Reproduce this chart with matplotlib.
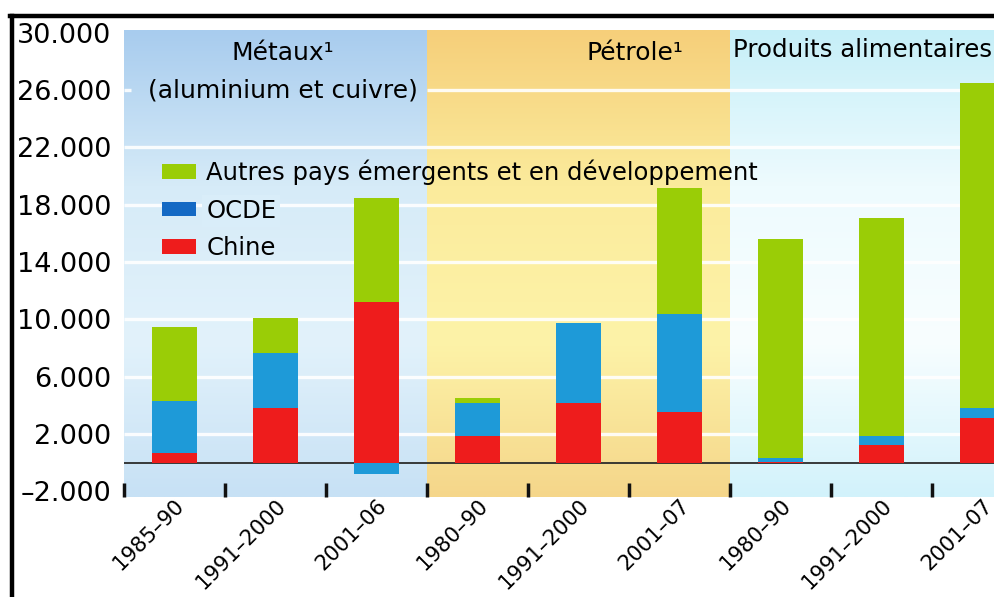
import numpy as np
import matplotlib
matplotlib.use("Agg")
import matplotlib.pyplot as plt
from matplotlib.colors import LinearSegmentedColormap
from matplotlib.lines import Line2D
from matplotlib.transforms import ScaledTranslation

# data
periods = ["1985–90", "1991–2000", "2001–06",
           "1980–90", "1991–2000", "2001–07",
           "1980–90", "1991–2000", "2001–07"]
chine = [700, 3840, 11230, 1880, 4180, 3560, 50, 1250, 3140]
ocde = [3620, 3830, -770, 2300, 5580, 6830, 300, 630, 700]
autres = [5160, 2440, 7250, 350, 0, 8790, 15270, 15200, 22660]
series_names = ["Chine", "OCDE", "Autres pays émergents et en développement"]
yticks = [-2000, 2000, 6000, 10000, 14000, 18000, 22000, 26000, 30000]
ytick_labels = ["–2.000", "2.000", "6.000", "10.000", "14.000",
                "18.000", "22.000", "26.000", "30.000"]

colors = ["#ee1c1c", "#1e9ad8", "#9acd06"]
legend_blue = "#1469c4"

fig = plt.figure(figsize=(9.95, 5.97), dpi=100)
ax = fig.add_axes([0.1246, 0.1675, 0.8754, 0.7822])

ymin, ymax = -2400, 30200
xmin, xmax = -0.5, 8.124

# shaded group panels
panels = [
    ((-0.5, 2.5), ["#a8ccee", "#d6ebf8", "#e2f2fb", "#c7e1f5"]),
    ((2.5, 5.5), ["#f6cf7a", "#fbeb9c", "#fdf3a8", "#f5d68a"]),
    ((5.5, 9.0), ["#c6eff8", "#eefbfe", "#f8feff", "#d2f2fb"]),
]
grad = np.linspace(0, 1, 256).reshape(-1, 1)
for (x0, x1), cols in panels:
    cmap = LinearSegmentedColormap.from_list("p", cols)
    ax.imshow(grad, cmap=cmap, extent=[x0, x1, ymin, ymax], aspect="auto",
              origin="upper", zorder=0)

# white gridlines
for v in yticks[1:-1]:
    start = 2.5 if v == 26000 else xmin
    ax.hlines(v, start, xmax, color="white", lw=2.4, alpha=0.9, zorder=1)
ax.hlines(26000, xmin, -0.43, color="white", lw=2.4, alpha=0.9, zorder=1)

ax.axhline(0, color="#2b2b2b", lw=1.3, zorder=2)

x = np.arange(len(periods))
pos = np.zeros(len(x))
neg = np.zeros(len(x))
bars = []
for vals, col, name in zip([chine, ocde, autres], colors, series_names):
    vals = np.array(vals, dtype=float)
    bottom = np.where(vals >= 0, pos, neg)
    b = ax.bar(x, vals, 0.45, bottom=bottom, color=col, label=name, zorder=3)
    bars.append(b)
    pos += np.where(vals > 0, vals, 0)
    neg += np.where(vals < 0, vals, 0)

ax.set_xlim(xmin, xmax)
ax.set_ylim(ymin, ymax)
for s in ax.spines.values():
    s.set_visible(False)

ax.set_yticks(yticks)
ax.set_yticklabels(ytick_labels, fontsize=19.5)
ax.tick_params(axis="y", length=0, pad=9)

ax.set_xticks(x)
ax.set_xticklabels(periods, fontsize=15.2, rotation=45, ha="right",
                   va="center", rotation_mode="anchor")
ax.tick_params(axis="x", which="major", length=0, pad=4)
shift = ScaledTranslation(7 / 100, 0, fig.dpi_scale_trans)
for lab in ax.get_xticklabels():
    lab.set_transform(lab.get_transform() + shift)
ax.set_xticks(np.arange(-0.5, 8.0, 1.0), minor=True)
ax.tick_params(axis="x", which="minor", direction="in", length=10, width=2.5,
               color="#111111")

# group headers
ax.text(1.07, 28590, "Métaux¹", ha="center", va="center", fontsize=18)
ax.text(1.07, 26010, "(aluminium et cuivre)", ha="center", va="center",
        fontsize=18)
ax.text(4.56, 28590, "Pétrole¹", ha="center", va="center", fontsize=18)
ax.text(5.53, 28800, "Produits alimentaires", ha="left", va="center",
        fontsize=17.6, clip_on=False)

leg = ax.legend(handles=bars[::-1], loc="upper left",
                bbox_to_anchor=(0.0436, 0.722), frameon=False, fontsize=17.5,
                borderaxespad=0, borderpad=0, labelspacing=0.55,
                handlelength=1.4, handleheight=0.55, handletextpad=0.42)
leg.set_zorder(5)
leg.legend_handles[1].set_facecolor(legend_blue)
leg.get_texts()[1].set_bbox(dict(facecolor="#d9edf9", edgecolor="none", pad=3))

# photo frame lines
fig.add_artist(Line2D([0.010, 1.0], [0.973, 0.973], color="black", lw=3.2))
fig.add_artist(Line2D([0.012, 0.012], [0.0, 0.973], color="black", lw=3.2))

fig.savefig("out.png", dpi=100)
